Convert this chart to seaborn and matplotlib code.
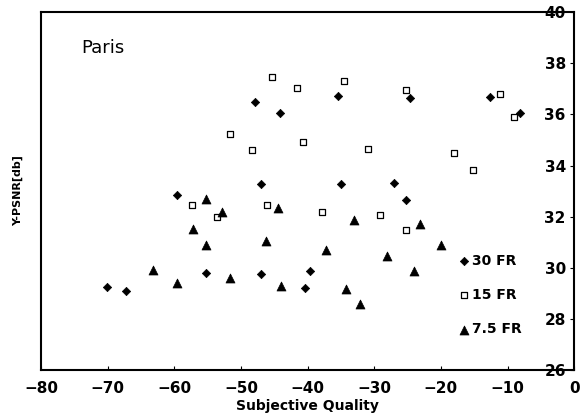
import matplotlib
matplotlib.use("Agg")
import matplotlib.pyplot as plt
import seaborn as sns
import pandas as pd

# 30 FR (filled diamonds)
fr30_x = [-70.1, -67.2, -59.6, -55.2, -47.9, -47.0, -47.0, -44.1, -40.4, -39.6,
          -35.4, -35.0, -27.1, -25.2, -24.6, -12.6, -8.1]
fr30_y = [29.24, 29.08, 32.86, 29.78, 36.47, 33.26, 29.76, 36.07, 29.22, 29.87,
          36.70, 33.26, 33.30, 32.64, 36.63, 36.68, 36.06]

# 15 FR (open squares)
fr15_x = [-57.3, -53.6, -51.6, -48.4, -46.1, -45.4, -41.6, -40.7, -37.8, -34.5,
          -31.0, -29.2, -25.3, -25.2, -18.1, -15.2, -11.2, -9.1]
fr15_y = [32.47, 31.98, 35.22, 34.60, 32.44, 37.45, 37.04, 34.93, 32.17, 37.32,
          34.66, 32.05, 36.96, 31.48, 34.49, 33.83, 36.80, 35.90]

# 7.5 FR (filled triangles)
fr75_x = [-63.2, -59.6, -57.2, -55.3, -55.2, -52.8, -51.6, -46.3, -44.4, -44.0,
          -37.3, -34.2, -33.1, -32.1, -28.1, -24.1, -23.1, -20.0]
fr75_y = [29.91, 29.41, 31.52, 32.69, 30.89, 32.18, 29.61, 31.06, 32.33, 29.28,
          30.70, 29.16, 31.88, 28.57, 30.46, 29.88, 31.70, 30.89]

x_ticks = [-80, -70, -60, -50, -40, -30, -20, -10, 0]
y_ticks = [26, 28, 30, 32, 34, 36, 38, 40]

sns.set_theme(style="ticks")
plt.rcParams["font.family"] = ["DejaVu Sans"]
plt.rcParams["text.color"] = "black"
plt.rcParams["axes.labelcolor"] = "black"
plt.rcParams["xtick.color"] = "black"
plt.rcParams["ytick.color"] = "black"

fig = plt.figure(figsize=(5.84, 4.19), dpi=100)
ax = fig.add_axes([0.0702, 0.117, 0.913, 0.854])

df30 = pd.DataFrame({"x": fr30_x, "y": fr30_y})
df15 = pd.DataFrame({"x": fr15_x, "y": fr15_y})
df75 = pd.DataFrame({"x": fr75_x, "y": fr75_y})

sns.scatterplot(data=df30, x="x", y="y", marker="D", s=18, color="black",
                edgecolor="black", linewidth=0.5, label="30 FR", ax=ax)
sns.scatterplot(data=df15, x="x", y="y", marker="s", s=22, facecolor="white",
                edgecolor="black", linewidth=0.9, label="15 FR", ax=ax)
sns.scatterplot(data=df75, x="x", y="y", marker="^", s=42, color="black",
                edgecolor="black", linewidth=0.5, label="7.5 FR", ax=ax)

ax.set_xlim(-80, 0)
ax.set_ylim(26, 40)
ax.set_xticks(x_ticks)
ax.set_yticks(y_ticks)

for side in ["left", "right", "top", "bottom"]:
    ax.spines[side].set_visible(True)
    ax.spines[side].set_linewidth(1.5)
    ax.spines[side].set_color("black")

ax.yaxis.tick_right()
ax.tick_params(axis="x", direction="in", length=3, width=0.8, pad=8,
               labelsize=11)
ax.tick_params(axis="y", direction="in", length=3, width=0.8, pad=-6,
               labelsize=11)
for lbl in ax.get_yticklabels():
    lbl.set_horizontalalignment("right")
for lbl in ax.get_xticklabels() + ax.get_yticklabels():
    lbl.set_fontweight("bold")

ax.set_xlabel("Subjective Quality", fontsize=10, fontweight="bold", labelpad=2)
ax.set_ylabel("")
fig.text(0.031, 0.545, "Y-PSNR[db]", rotation=90, fontsize=8, fontweight="bold",
         ha="center", va="center")

ax.text(-73.9, 38.6, "Paris", fontsize=13, ha="left", va="center")

leg = ax.legend(loc="upper left", bbox_to_anchor=(0.77, 0.34), frameon=False,
                fontsize=10, labelspacing=1.45, handletextpad=0.1,
                handlelength=1.0, borderaxespad=0)
for t in leg.get_texts():
    t.set_fontweight("bold")

fig.savefig("out.png", dpi=100)
